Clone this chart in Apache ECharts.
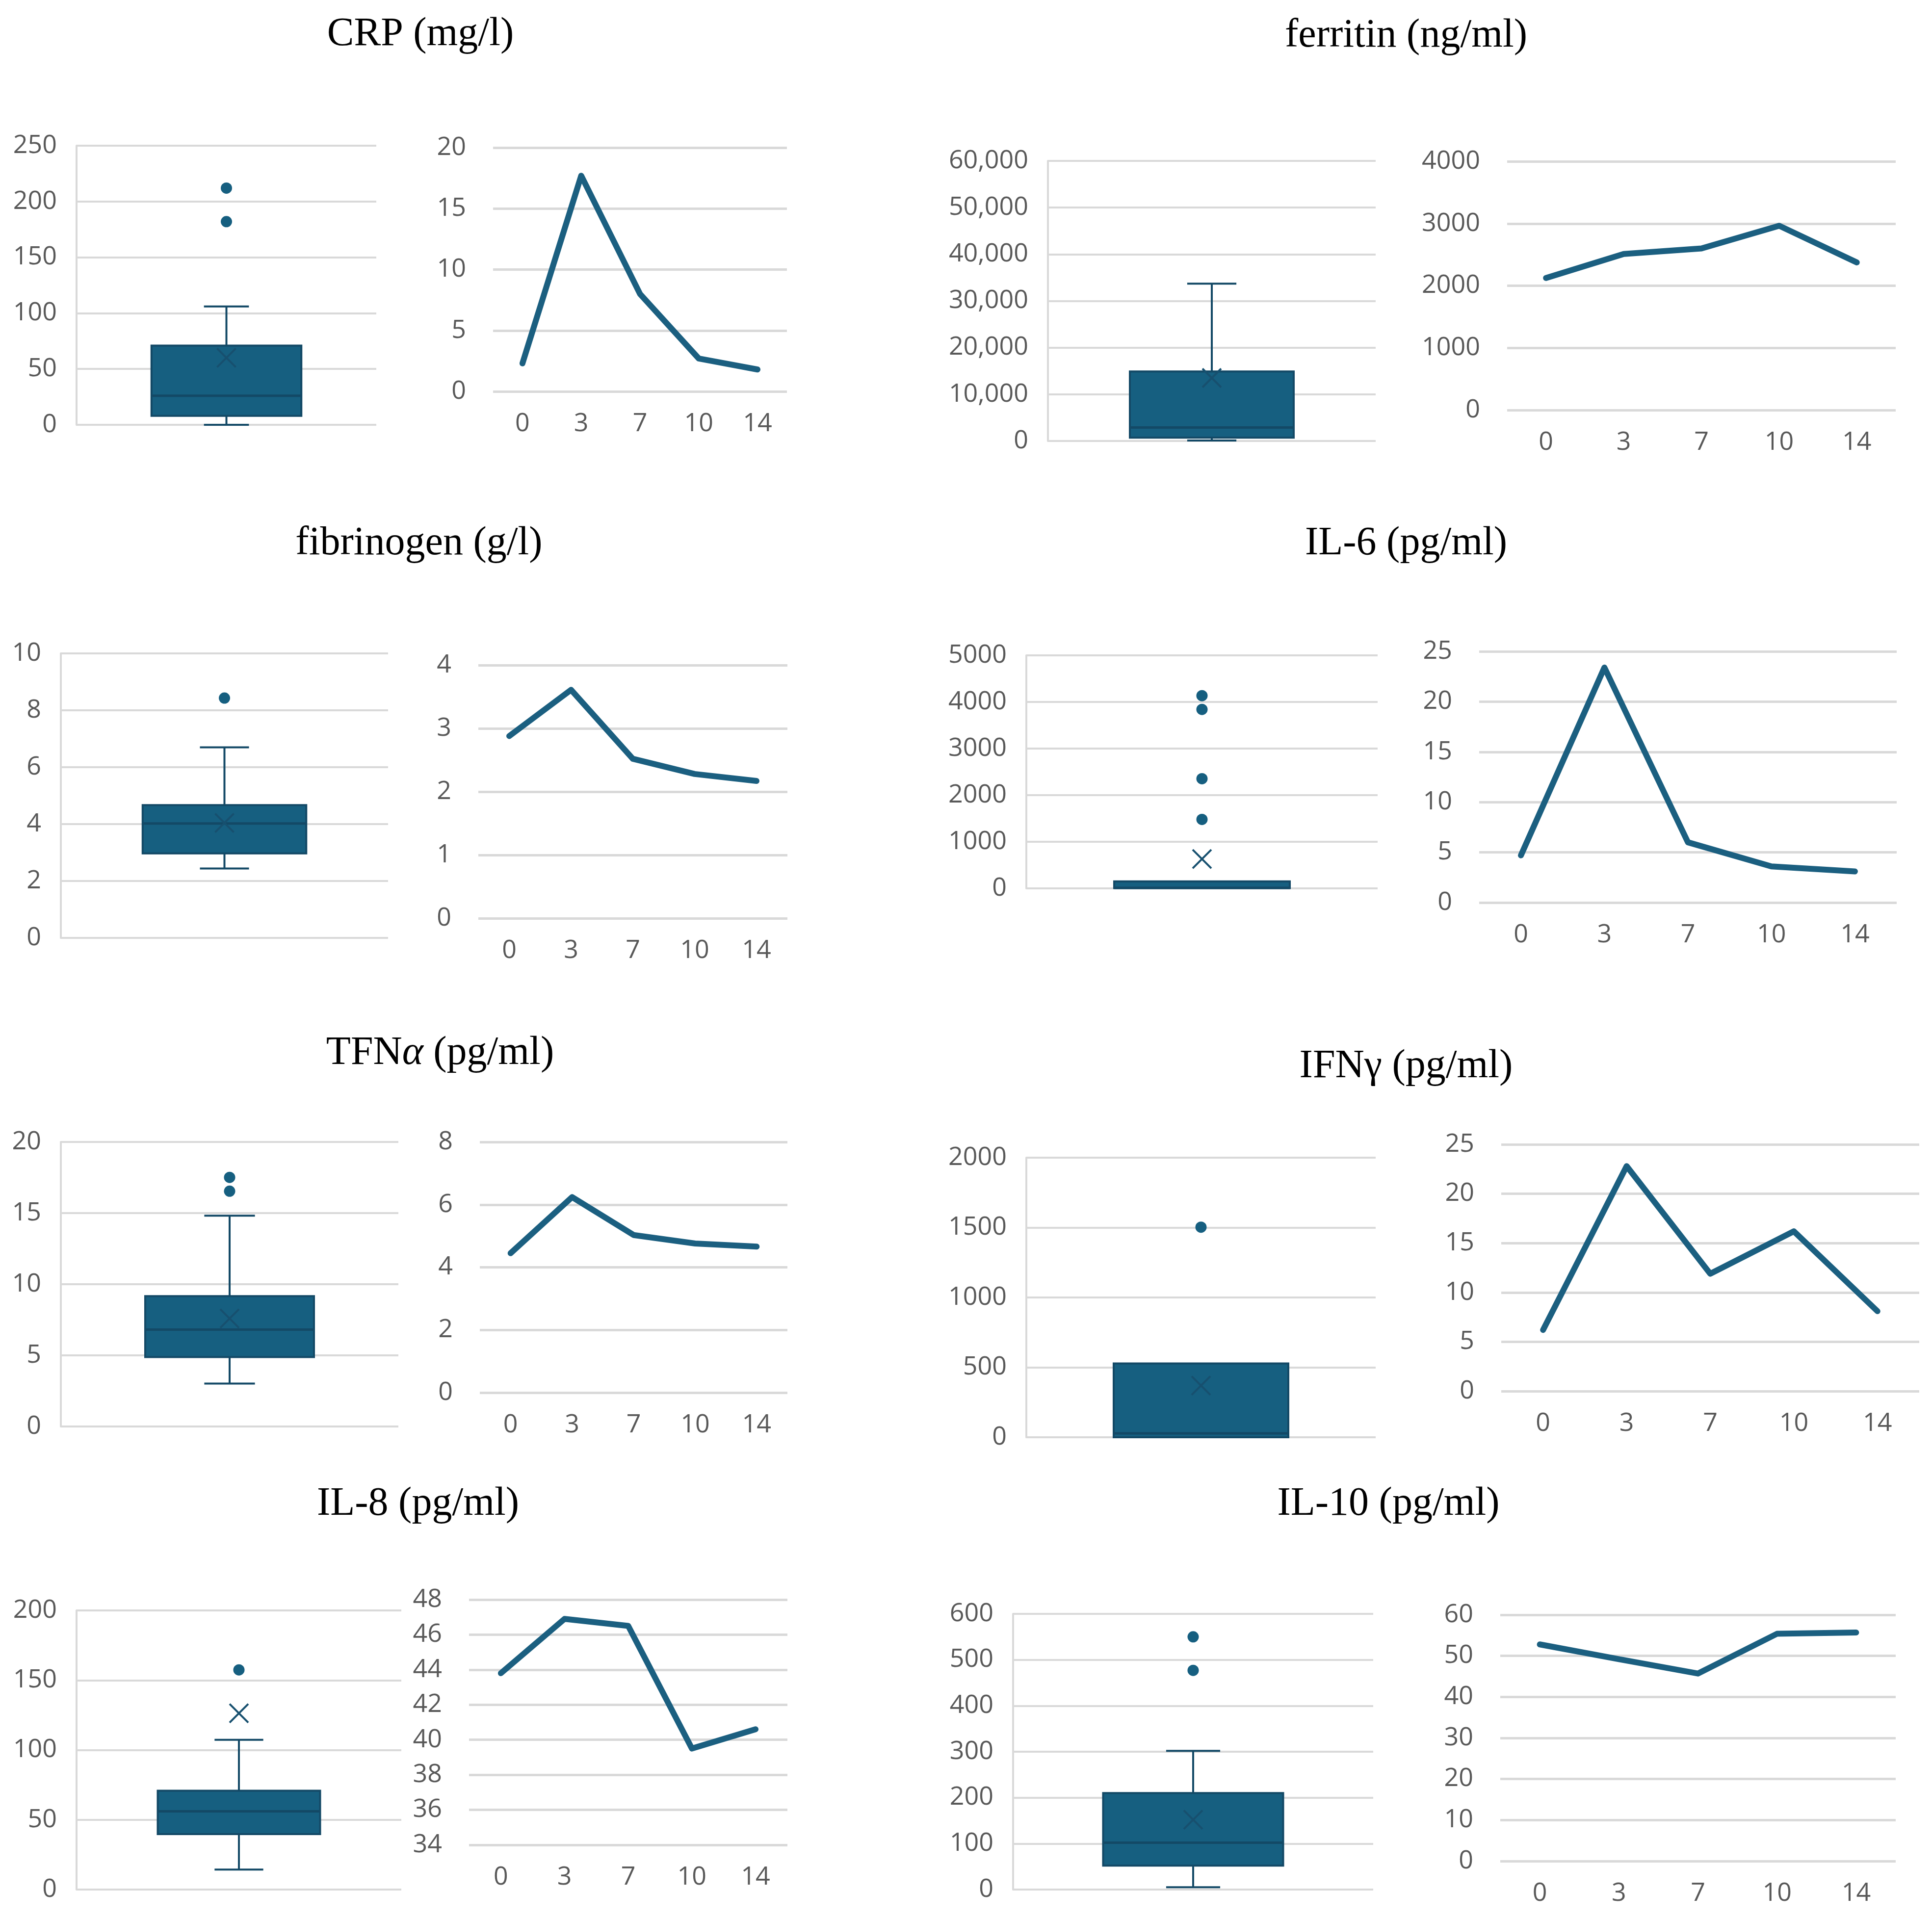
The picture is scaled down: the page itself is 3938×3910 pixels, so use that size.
<!DOCTYPE html>
<html><head><meta charset="utf-8">
<script src="https://cdn.jsdelivr.net/npm/echarts@6/dist/echarts.min.js"></script>
<style>html,body{margin:0;padding:0;background:#fff}#c{width:3938px;height:3910px}</style>
</head><body><div id="c"></div>
<script>
// ---------- data ----------
const days = ['0', '3', '7', '10', '14'];

// box stats: [lower whisker, Q1, median, Q3, upper whisker]
const crpBox = [0, 8, 26, 71, 106];
const crpMean = 60;
const crpOutliers = [212, 182];
const crpLine = [2.3, 17.7, 8.0, 2.7, 1.8];

const ferritinBox = [100, 700, 2900, 14900, 33700];
const ferritinMean = 13500;
const ferritinOutliers = [];
const ferritinLine = [2125, 2510, 2600, 2965, 2375];

const fibrinogenBox = [2.44, 2.97, 4.02, 4.67, 6.70];
const fibrinogenMean = 4.04;
const fibrinogenOutliers = [8.43];
const fibrinogenLine = [2.88, 3.61, 2.52, 2.28, 2.17];

const il6Box = [0, 5, 10, 150, 150];
const il6Mean = 630;
const il6Outliers = [4135, 3840, 2353, 1480];
const il6Line = [4.7, 23.4, 6.0, 3.6, 3.1];

const tnfBox = [3.02, 4.88, 6.81, 9.16, 14.82];
const tnfMean = 7.59;
const tnfOutliers = [17.51, 16.54];
const tnfLine = [4.45, 6.24, 5.03, 4.76, 4.66];

const ifnBox = [0, 0, 28, 528, 528];
const ifnMean = 370;
const ifnOutliers = [1503];
const ifnLine = [6.2, 22.8, 11.9, 16.2, 8.1];

const il8Box = [14.3, 39.7, 56.1, 70.8, 107.3];
const il8Mean = 126.3;
const il8Outliers = [157.4];
const il8Line = [43.8, 46.9, 46.5, 39.5, 40.6];

const il10Box = [5, 52, 102, 210, 302];
const il10Mean = 152;
const il10Outliers = [550, 477];
const il10Line = [52.8, 49.2, 45.7, 55.4, 55.7];

const titles = ['CRP (mg/l)', 'ferritin (ng/ml)', 'fibrinogen (g/l)', 'IL-6 (pg/ml)',
  'TFN{a|α} (pg/ml)', 'IFNγ (pg/ml)', 'IL-8 (pg/ml)', 'IL-10 (pg/ml)'];

// axis ranges: [min, max, interval]
const boxAxes = [[0, 250, 50], [0, 60000, 10000], [0, 10, 2], [0, 5000, 1000],
  [0, 20, 5], [0, 2000, 500], [0, 200, 50], [0, 600, 100]];
const lineAxes = [[0, 20, 5], [0, 4000, 1000], [0, 4, 1], [0, 25, 5],
  [0, 8, 2], [0, 25, 5], [34, 48, 2], [0, 60, 10]];

const panels = [
  {box: crpBox, mean: crpMean, out: crpOutliers, line: crpLine},
  {box: ferritinBox, mean: ferritinMean, out: ferritinOutliers, line: ferritinLine, comma: true},
  {box: fibrinogenBox, mean: fibrinogenMean, out: fibrinogenOutliers, line: fibrinogenLine},
  {box: il6Box, mean: il6Mean, out: il6Outliers, line: il6Line},
  {box: tnfBox, mean: tnfMean, out: tnfOutliers, line: tnfLine},
  {box: ifnBox, mean: ifnMean, out: ifnOutliers, line: ifnLine},
  {box: il8Box, mean: il8Mean, out: il8Outliers, line: il8Line},
  {box: il10Box, mean: il10Mean, out: il10Outliers, line: il10Line}
];

// ---------- layout (pixels) ----------
const titlePos = [[857, 70], [2866, 73], [854, 1108], [2866, 1108],
  [897, 2147], [2866, 2174], [852, 3066], [2830, 3066]];
// [left, top, width, height]
const boxGrids = [[156, 297, 611, 569], [2136, 328, 668, 571], [124, 1332, 667, 580], [2092, 1336, 716, 475],
  [124, 2328, 688, 580], [2092, 2360, 712, 570], [156, 3283, 662, 569], [2065, 3290, 734, 562]];
const lineGrids = [[1005, 301, 599, 497], [3072, 329, 792, 507], [975, 1356, 630, 516], [3015, 1328, 851, 512],
  [978, 2328, 627, 511], [3060, 2333, 852, 503], [956, 3261, 649, 500], [3058, 3292, 806, 502]];

const BOX = '#165f80';
const EDGE = '#134966';
const LINE = '#1b5f80';
const GRID = '#d9d9d9';
const LBL = '#595959';
const LFONT = 'Open Sans';

function boxRender(params, api) {
  const x = api.value(0);
  const v = [1, 2, 3, 4, 5, 6].map(i => api.value(i));
  const bw = api.size([1, 0])[0];
  const cx = api.coord([x, v[2]])[0];
  const y = val => api.coord([x, val])[1];
  const half = bw * 0.25, cap = bw * 0.075;
  const yMin = y(v[0]), yQ1 = y(v[1]), yMed = y(v[2]), yQ3 = y(v[3]), yMax = y(v[4]), yMean = y(v[5]);
  const ls = {stroke: EDGE, lineWidth: 4};
  const ch = [];
  if (yQ3 - yMax > 2) {
    ch.push({type: 'line', shape: {x1: cx, y1: yQ3, x2: cx, y2: yMax}, style: ls});
    ch.push({type: 'line', shape: {x1: cx - cap, y1: yMax, x2: cx + cap, y2: yMax}, style: ls});
  }
  if (yMin - yQ1 > 2) {
    ch.push({type: 'line', shape: {x1: cx, y1: yQ1, x2: cx, y2: yMin}, style: ls});
    ch.push({type: 'line', shape: {x1: cx - cap, y1: yMin, x2: cx + cap, y2: yMin}, style: ls});
  }
  ch.push({type: 'rect', shape: {x: cx - half, y: yQ3, width: 2 * half, height: yQ1 - yQ3},
    style: {fill: BOX, stroke: EDGE, lineWidth: 4}});
  ch.push({type: 'line', shape: {x1: cx - half, y1: yMed, x2: cx + half, y2: yMed}, style: {stroke: EDGE, lineWidth: 5}});
  const m = 19;
  ch.push({type: 'line', shape: {x1: cx - m, y1: yMean - m, x2: cx + m, y2: yMean + m}, style: {stroke: '#17506f', lineWidth: 4}});
  ch.push({type: 'line', shape: {x1: cx - m, y1: yMean + m, x2: cx + m, y2: yMean - m}, style: {stroke: '#17506f', lineWidth: 4}});
  return {type: 'group', children: ch};
}

const option = {
  backgroundColor: '#fff',
  animation: false,
  title: [], grid: [], xAxis: [], yAxis: [], series: []
};

panels.forEach((p, i) => {
  option.title.push({
    text: titles[i], left: titlePos[i][0], top: titlePos[i][1], padding: 0,
    textAlign: 'center', textVerticalAlign: 'middle',
    textStyle: {fontFamily: 'Liberation Serif', fontSize: 82, fontWeight: 'normal', color: '#000',
      rich: {a: {fontFamily: 'Liberation Serif', fontSize: 82, fontStyle: 'italic', color: '#000'}}}
  });
  const bg = boxGrids[i], lg = lineGrids[i];
  const bi = 2 * i, li = 2 * i + 1;
  option.grid.push({left: bg[0], top: bg[1], width: bg[2], height: bg[3], containLabel: false});
  option.grid.push({left: lg[0], top: lg[1], width: lg[2], height: lg[3], containLabel: false});
  // box chart axes
  option.xAxis.push({type: 'category', gridIndex: bi, data: [''], boundaryGap: true,
    axisLine: {show: false}, axisTick: {show: false}, axisLabel: {show: false}, splitLine: {show: false}});
  option.yAxis.push({type: 'value', gridIndex: bi, min: boxAxes[i][0], max: boxAxes[i][1], interval: boxAxes[i][2],
    axisLine: {show: true, lineStyle: {color: GRID, width: 4}}, axisTick: {show: false},
    axisLabel: {color: LBL, fontFamily: LFONT, fontSize: 52, margin: 40,
      formatter: p.comma ? (v => v.toLocaleString('en-US')) : (v => String(v))},
    splitLine: {show: true, lineStyle: {color: GRID, width: 4}}});
  // line chart axes
  option.xAxis.push({type: 'category', gridIndex: li, data: days, boundaryGap: true,
    axisLine: {show: false}, axisTick: {show: false},
    axisLabel: {color: LBL, fontFamily: LFONT, fontSize: 52, margin: 40}, splitLine: {show: false}});
  option.yAxis.push({type: 'value', gridIndex: li, min: lineAxes[i][0], max: lineAxes[i][1], interval: lineAxes[i][2],
    axisLine: {show: false}, axisTick: {show: false},
    axisLabel: {color: LBL, fontFamily: LFONT, fontSize: 52, margin: 55, formatter: v => String(v)},
    splitLine: {show: true, lineStyle: {color: GRID, width: 5}}});

  option.series.push({type: 'custom', xAxisIndex: bi, yAxisIndex: bi, renderItem: boxRender,
    data: [[0].concat(p.box, [p.mean])], clip: false, z: 3});
  option.series.push({type: 'scatter', xAxisIndex: bi, yAxisIndex: bi, symbol: 'circle', symbolSize: 23,
    itemStyle: {color: BOX, opacity: 1}, data: p.out.map(v => [0, v]), z: 4});
  option.series.push({type: 'line', xAxisIndex: li, yAxisIndex: li, data: p.line, symbol: 'none',
    lineStyle: {color: LINE, width: 12, join: 'round', cap: 'round'}, z: 3});
});

const chart = echarts.init(document.getElementById('c'), null, {width: 3938, height: 3910});
chart.setOption(option);
</script></body></html>
